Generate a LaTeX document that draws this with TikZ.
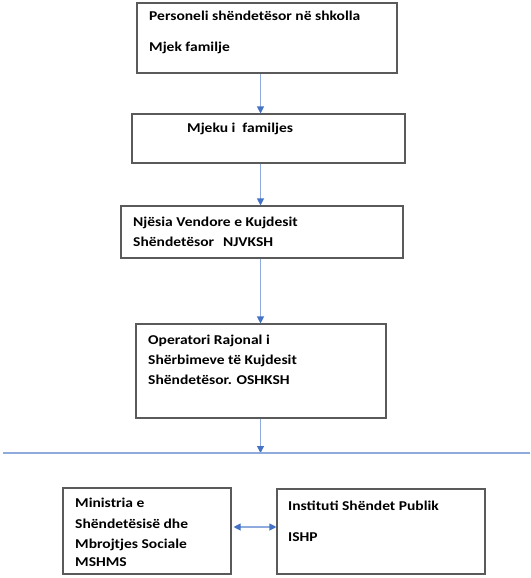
\documentclass[tikz,border=0pt]{standalone}
\usepackage{fontspec}
\setmainfont{Carlito}[FakeStretch=1.15]
\usetikzlibrary{arrows.meta}
\definecolor{boxgray}{RGB}{90,90,90}
\definecolor{linkblue}{RGB}{143,170,220}
\definecolor{tipblue}{RGB}{68,114,196}
\tikzset{
  orgbox/.style={draw=boxgray, line width=1.1pt, rectangle, inner sep=0pt},
  txt/.style={anchor=base west, inner sep=0pt, font=\fontsize{13.5}{16}\selectfont\bfseries, text=black},
  link/.style={draw=linkblue, line width=1.1pt, -{Triangle[length=7pt,width=7pt,fill=tipblue,color=tipblue]}},
  dlink/.style={draw=linkblue, line width=1.1pt, {Triangle[length=7pt,width=7pt,fill=tipblue,color=tipblue]}-{Triangle[length=7pt,width=7pt,fill=tipblue,color=tipblue]}},
  hline/.style={draw=linkblue, line width=1.1pt}
}
\begin{document}
\begin{tikzpicture}[x=1pt,y=-1pt]
\useasboundingbox (0,0) rectangle (530,578);
% boxes
\node[orgbox, minimum width=260pt, minimum height=70pt] (b1) at (267,38) {};
\node[orgbox, minimum width=273pt, minimum height=49pt] (b2) at (268.5,138.5) {};
\node[orgbox, minimum width=282pt, minimum height=52pt] (b3) at (262,232) {};
\node[orgbox, minimum width=250pt, minimum height=94pt] (b4) at (261,371) {};
\node[orgbox, minimum width=168pt, minimum height=86pt] (b5) at (147,531) {};
\node[orgbox, minimum width=208pt, minimum height=85pt] (b6) at (381,531.5) {};
% texts
\node[txt] (t1a) at (149,21) {Personeli shëndetësor në shkolla};
\node[txt] (t1b) at (149,51.5) {Mjek familje};
\node[txt] (t2) at (187,132) {Mjeku i\ \ familjes};
\node[txt] (t3a) at (133,226.5) {Një\-sia Vendore e Kujdesit};
\node[txt] (t3b) at (133,246) {Shëndetësor\hspace{9pt}NJVKSH};
\node[txt] (t4a) at (148,344) {Operatori Rajonal i};
\node[txt] (t4b) at (148,364) {Shërbimeve të Kujdesit};
\node[txt] (t4c) at (148,384) {Shëndetësor. OSHKSH};
\node[txt] (t5a) at (75,507.5) {Ministria e};
\node[txt] (t5b) at (75,528.5) {Shëndetësisë dhe};
\node[txt] (t5c) at (75,548) {Mbrojtjes Sociale};
\node[txt] (t5d) at (75,566.5) {MSHMS};
\node[txt] (t6a) at (288,510) {Instituti Shëndet Publik};
\node[txt] (t6b) at (288,541.5) {ISHP};
% helper coordinates
\coordinate (ax) at (260.5,0);
\coordinate (hl1) at (3,453);
\coordinate (hl2) at (530,453);
\coordinate (dy) at (0,527);
% connectors
\draw[link] (b1.south -| ax) -- (b2.north -| ax);
\draw[link] (b2.south -| ax) -- (b3.north -| ax);
\draw[link] (b3.south -| ax) -- (b4.north -| ax);
\draw[link] (b4.south -| ax) -- (ax |- hl1);
\draw[hline] (hl1) -- (hl2);
\draw[dlink] ([xshift=2pt]b5.east |- dy) -- (b6.west |- dy);
\end{tikzpicture}
\end{document}
